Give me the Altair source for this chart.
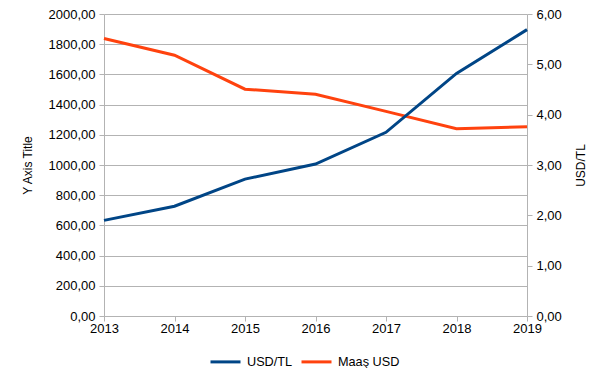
import altair as alt
import pandas as pd

years = [2013, 2014, 2015, 2016, 2017, 2018, 2019]
usd_tl = [1.90, 2.18, 2.72, 3.02, 3.65, 4.82, 5.69]
maas_usd = [1838, 1727, 1502, 1469, 1355, 1240, 1253]
series_names = ["USD/TL", "Maaş USD"]
series_colors = ["#004586", "#ff420e"]

df = pd.DataFrame(
    [{"year": y, "value": v, "series": "USD/TL"} for y, v in zip(years, usd_tl)]
    + [{"year": y, "value": v, "series": "Maaş USD"} for y, v in zip(years, maas_usd)]
)

FONT = "Liberation Sans"
GRID = "#b3b3b3"
fmt = "replace(format(datum.value, '.2f'), '.', ',')"

color = alt.Color(
    "series:N",
    scale=alt.Scale(domain=series_names, range=series_colors),
    legend=alt.Legend(
        title=None,
        orient="none",
        direction="horizontal",
        legendX=105,
        legendY=331,
        padding=0,
        symbolType="stroke",
        symbolSize=900,
        symbolStrokeWidth=3,
        labelFont=FONT,
        labelFontSize=12.7,
        labelColor="#000000",
        columnPadding=2,
        labelOffset=5,
    ),
)

x = alt.X(
    "year:Q",
    scale=alt.Scale(domain=[2013, 2019], nice=False, zero=False),
    axis=alt.Axis(
        title=None,
        values=years,
        format="d",
        grid=False,
        tickSize=5,
        labelPadding=1,
        labelFlush=False,
    ),
)

base = alt.Chart(df)

left = base.transform_filter(alt.datum.series == "Maaş USD").mark_line(strokeWidth=3).encode(
    x=x,
    y=alt.Y(
        "value:Q",
        scale=alt.Scale(domain=[0, 2000], nice=False),
        axis=alt.Axis(
            title="Y Axis Title",
            values=list(range(0, 2001, 200)),
            labelExpr=fmt,
            grid=True,
            tickSize=5,
            labelPadding=4,
            labelFlush=False,
            titlePadding=14,
        ),
    ),
    color=color,
)

right = base.transform_filter(alt.datum.series == "USD/TL").mark_line(strokeWidth=3).encode(
    x=x,
    y=alt.Y(
        "value:Q",
        scale=alt.Scale(domain=[0, 6], nice=False),
        axis=alt.Axis(
            title="USD/TL",
            orient="right",
            values=[0, 1, 2, 3, 4, 5, 6],
            labelExpr=fmt,
            grid=False,
            tickSize=5,
            labelPadding=4,
            labelFlush=False,
            titlePadding=26,
            titleAngle=270,
        ),
    ),
    color=color,
)

chart = (
    alt.layer(left, right)
    .resolve_scale(y="independent")
    .properties(
        width=423,
        height=302,
        autosize=alt.AutoSizeParams(type="none"),
        padding={"left": 96, "top": 6, "right": 70, "bottom": 52},
    )
    .configure_view(stroke=None)
    .configure_axis(
        domainColor=GRID,
        tickColor=GRID,
        gridColor=GRID,
        labelFont=FONT,
        labelFontSize=13,
        labelColor="#000000",
        titleFont=FONT,
        titleFontSize=12,
        titleFontWeight="normal",
        titleColor="#000000",
    )
)

chart.save("out.html", embed_options={"renderer": "svg", "actions": False})
